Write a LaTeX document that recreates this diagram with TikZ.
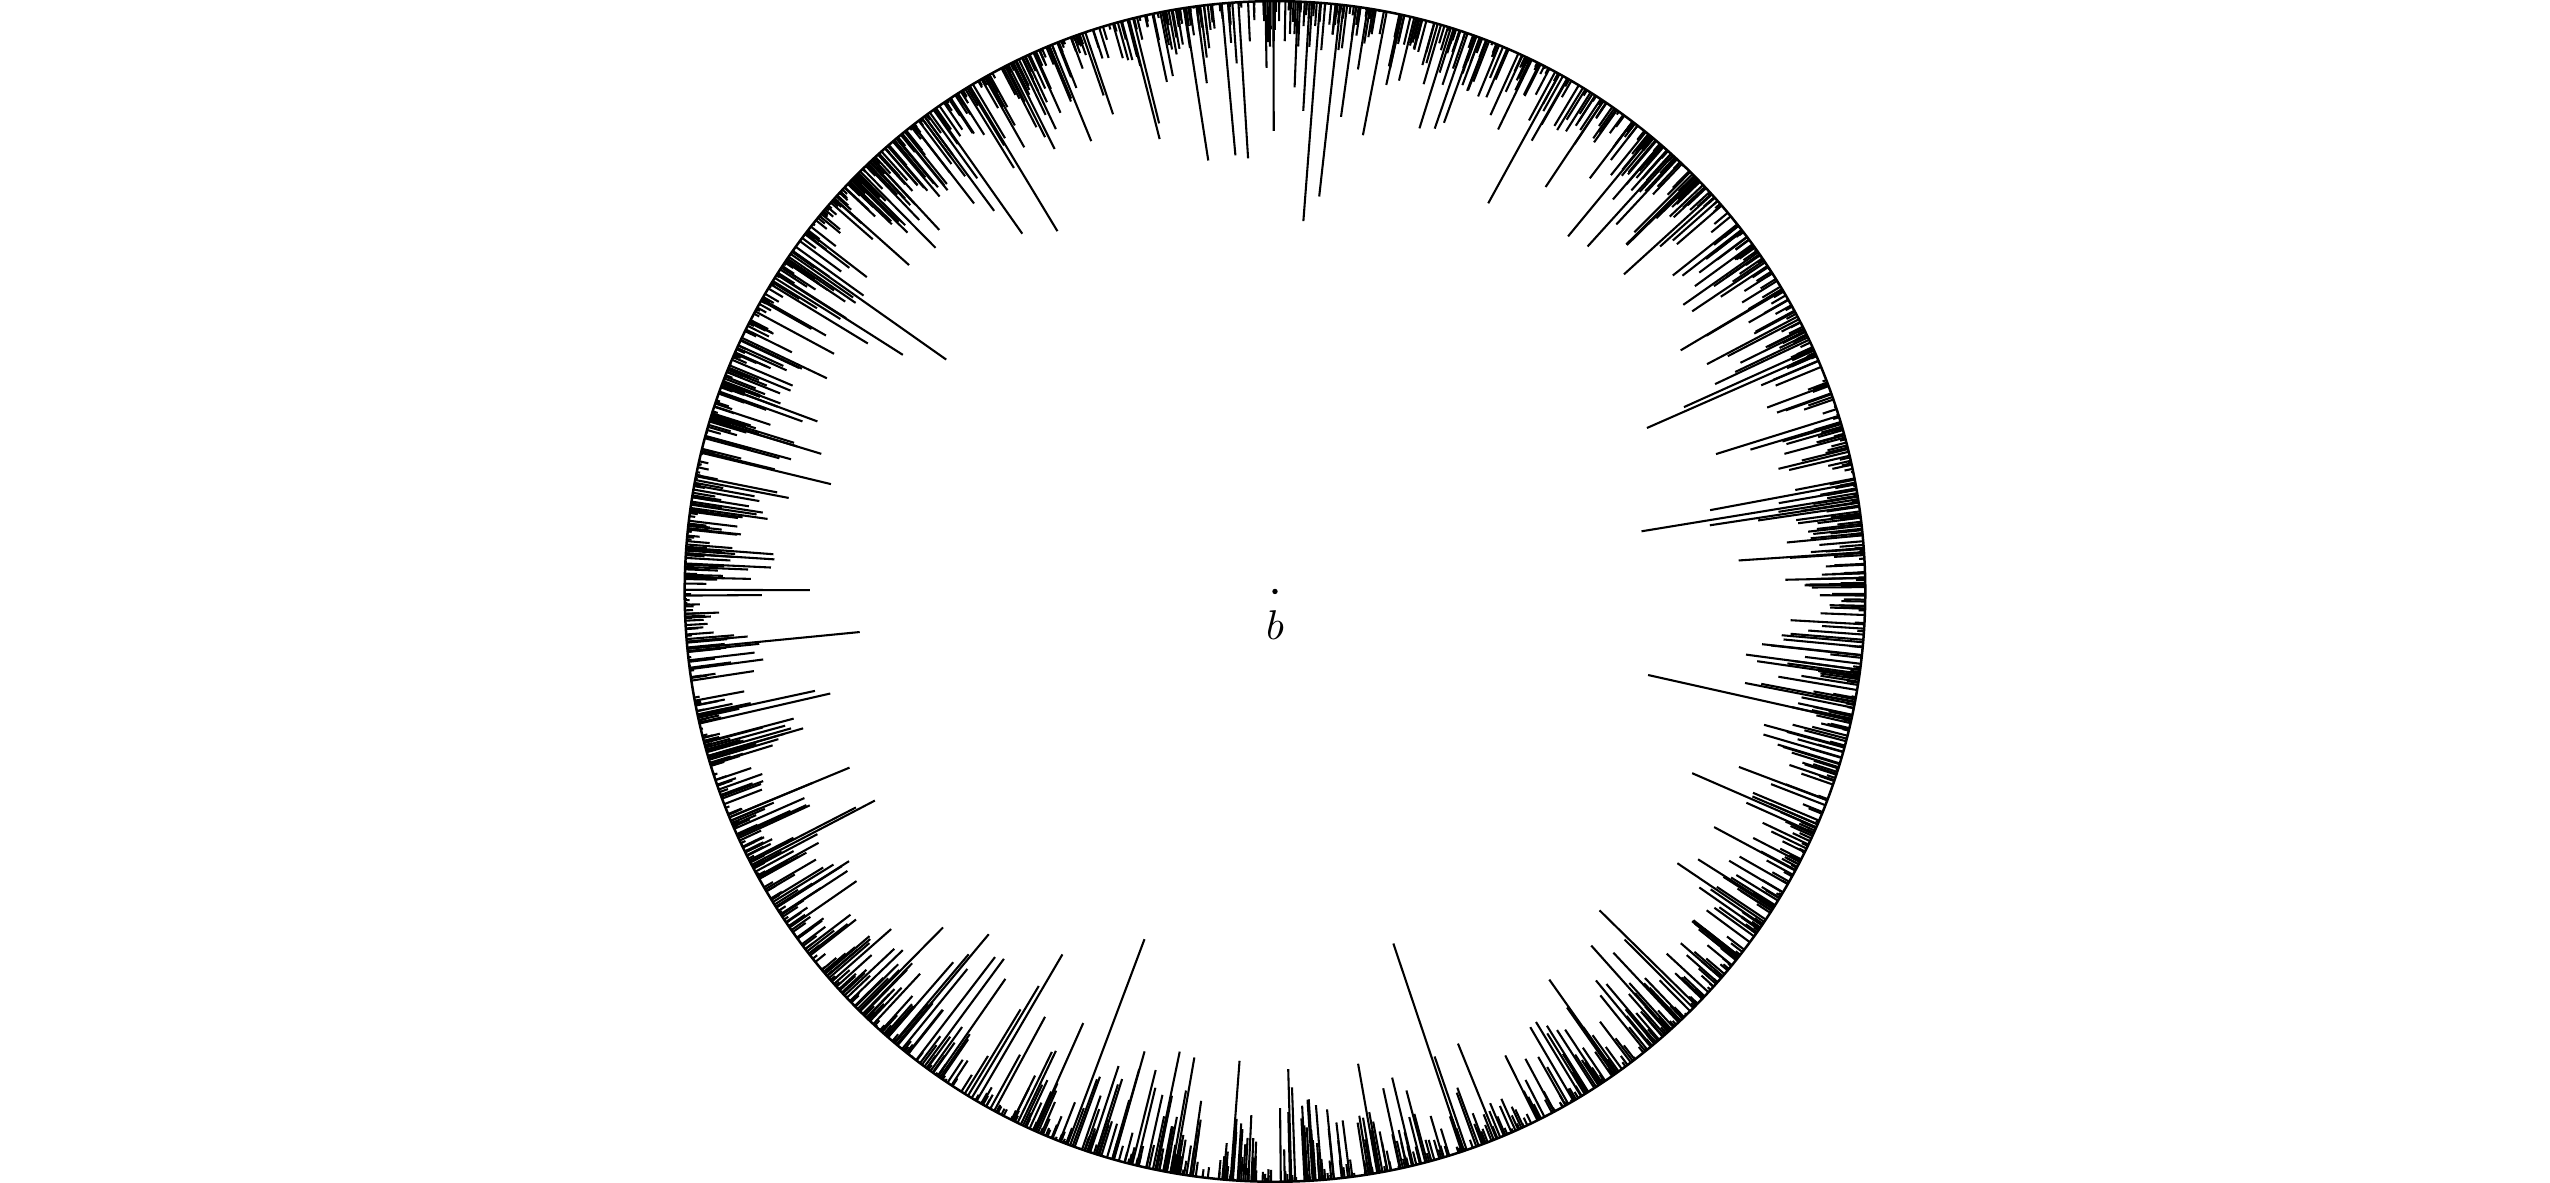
\documentclass[tikz,border=0pt]{standalone}
\usepackage{tikz}
\begin{document}
\begin{tikzpicture}[
    rimLine/.style={line width=0.6pt},
    spikeLine/.style={line width=0.5pt},
    centerDot/.style={fill=black}
]
    % Frame with the reference proportions
    \useasboundingbox (-10.778,-5) rectangle (10.778,5);
    \pgfmathsetseed{2718}

    % Outer circle
    \draw[rimLine] (0,0) circle (4.99cm);

    % Random spikes pointing inwards from the rim
    \foreach \i in {1,...,1900} {
        \pgfmathsetmacro{\ang}{360*rnd}
        \pgfmathsetmacro{\rin}{4.99-min(1.85,-0.26*ln(rnd+0.0001))}
        \draw[spikeLine] (\ang:4.99) -- (\ang:\rin);
    }

    % Centre point
    \coordinate (b) at (0,0);
    \fill[centerDot] (b) circle (0.65pt);
    \node[below=1pt] (bLabel) at (b) {$b$};
\end{tikzpicture}
\end{document}
